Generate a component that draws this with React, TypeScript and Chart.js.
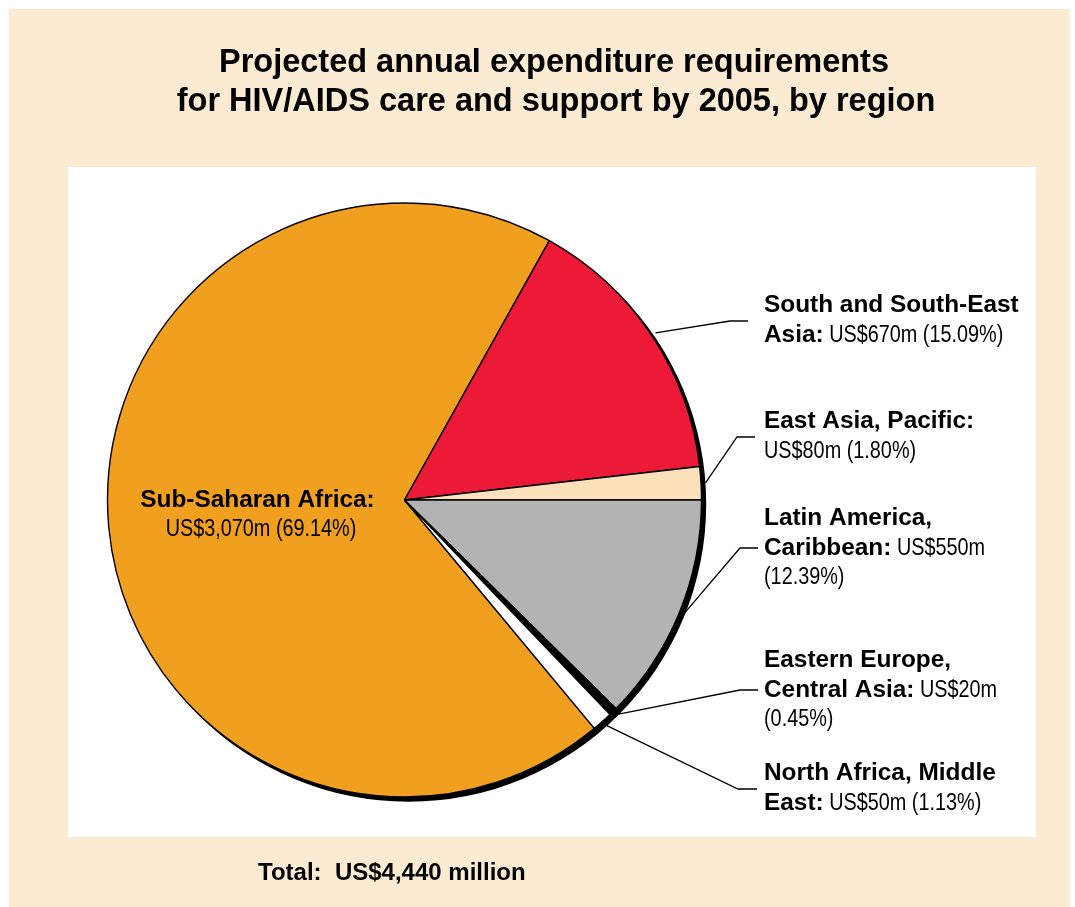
import React, { useEffect, useRef } from "react";
import { Chart, registerables } from "chart.js";
Chart.register(...registerables);

// ---- data ----
const regions = [
  "Sub-Saharan Africa",
  "South and South-East Asia",
  "East Asia, Pacific",
  "Latin America, Caribbean",
  "Eastern Europe, Central Asia",
  "North Africa, Middle East",
];
const valuesUSDm = [3070, 670, 80, 550, 20, 50];
const sliceColors = ["#F0A01E", "#EC1A37", "#FBE1BA", "#B3B3B3", "#000000", "#FFFFFF"];
const titleLines = [
  "Projected annual expenditure requirements",
  "for HIV/AIDS care and support by 2005, by region",
];
// how each region name is broken into lines in its label
const nameLines = [
  ["Sub-Saharan Africa:"],
  ["South and South-East", "Asia:"],
  ["East Asia, Pacific:"],
  ["Latin America,", "Caribbean:"],
  ["Eastern Europe,", "Central Asia:"],
  ["North Africa, Middle", "East:"],
];
// where the value text goes: "after" = after last name line, "below" = own line, "split" = money after name, pct on next line
const valueModes = ["below", "after", "below", "split", "split", "after"];

// ---- layout ----
const W = 1075;
const H = 907;
const labelX = 764;
const lineGap = 29.5;
const labelTops = [0, 312, 428, 525, 667, 780]; // first baseline of each right-hand label
const elbows = [
  null,
  [730, 321, 748],
  [737, 437, 755],
  [740, 548, 758],
  [740, 690, 758],
  [738, 789, 757],
];

const total = valuesUSDm.reduce((a, b) => a + b, 0);
const money = (v: number) => `US$${v.toLocaleString("en-US")}m`;
const pct = (v: number) => `(${((v / total) * 100).toFixed(2)}%)`;

const BOLD = 'bold 24.4px "Liberation Sans", Arial, Helvetica, sans-serif';

function hasFont(ctx: CanvasRenderingContext2D, name: string) {
  const s = "abcdefghijklmnopqrstuvwxyz0123456789ABCDEF";
  ctx.font = "24px monospace";
  const a = ctx.measureText(s).width;
  ctx.font = `24px "${name}", monospace`;
  const b = ctx.measureText(s).width;
  return Math.abs(a - b) > 0.5;
}

type Seg = [string, boolean];

export default function App() {
  const ref = useRef<HTMLCanvasElement | null>(null);

  useEffect(() => {
    const canvas = ref.current;
    if (!canvas) return;
    const ctx0 = canvas.getContext("2d")!;
    const narrow = hasFont(ctx0, "Liberation Sans Narrow");
    const REG = narrow
      ? '24.2px "Liberation Sans Narrow", sans-serif'
      : '24.2px "Liberation Sans", Arial, sans-serif';
    const regScale = narrow ? 1 : 0.82;

    const segWidth = (ctx: CanvasRenderingContext2D, s: Seg) => {
      ctx.font = s[1] ? BOLD : REG;
      return ctx.measureText(s[0]).width * (s[1] ? 1 : regScale);
    };
    const drawSegs = (ctx: CanvasRenderingContext2D, segs: Seg[], x: number, y: number) => {
      let cx = x;
      for (const s of segs) {
        ctx.font = s[1] ? BOLD : REG;
        const sc = s[1] ? 1 : regScale;
        ctx.save();
        ctx.translate(cx, y);
        ctx.scale(sc, 1);
        ctx.textAlign = "left";
        ctx.textBaseline = "alphabetic";
        ctx.fillStyle = "#000";
        ctx.fillText(s[0], 0, 0);
        ctx.restore();
        cx += segWidth(ctx, s);
      }
    };

    const labelLines = (i: number): Seg[][] => {
      const names = nameLines[i];
      const v = valuesUSDm[i];
      const lines: Seg[][] = names.map((n) => [[n, true] as Seg]);
      const mode = valueModes[i];
      if (mode === "below") lines.push([[`${money(v)} ${pct(v)}`, false]]);
      else if (mode === "after") lines[lines.length - 1].push([` ${money(v)} ${pct(v)}`, false]);
      else {
        lines[lines.length - 1].push([` ${money(v)}`, false]);
        lines.push([[pct(v), false]]);
      }
      return lines;
    };

    const framePlugin = {
      id: "frame",
      beforeDraw(chart: any) {
        const ctx: CanvasRenderingContext2D = chart.ctx;
        ctx.save();
        ctx.fillStyle = "#FFFFFF";
        ctx.fillRect(0, 0, W, H);
        ctx.fillStyle = "#FBEBD3";
        ctx.fillRect(9, 9, 1061, H - 9);
        ctx.fillStyle = "#FFFFFF";
        ctx.fillRect(68, 167, 968, 670);
        ctx.fillStyle = "#000";
        ctx.textAlign = "center";
        ctx.textBaseline = "alphabetic";
        ctx.font = 'bold 32.5px "Liberation Sans", Arial, Helvetica, sans-serif';
        ctx.fillText(titleLines[0], 554, 72);
        ctx.fillText(titleLines[1], 556, 111);
        ctx.textAlign = "left";
        ctx.font = 'bold 24px "Liberation Sans", Arial, Helvetica, sans-serif';
        ctx.fillText(`Total:  US$${total.toLocaleString("en-US")} million`, 258, 880);
        ctx.restore();
      },
      beforeDatasetsDraw(chart: any) {
        const arc: any = chart.getDatasetMeta(0).data[0];
        if (!arc) return;
        const ctx: CanvasRenderingContext2D = chart.ctx;
        ctx.save();
        ctx.fillStyle = "#000";
        ctx.beginPath();
        ctx.arc(arc.x + 4, arc.y + 4, arc.outerRadius + 0.7, 0, Math.PI * 2);
        ctx.fill();
        ctx.restore();
      },
      afterDatasetsDraw(chart: any) {
        const ctx: CanvasRenderingContext2D = chart.ctx;
        const arcs: any[] = chart.getDatasetMeta(0).data;
        ctx.save();
        // leader lines
        ctx.strokeStyle = "#000";
        ctx.lineWidth = 1.3;
        for (let i = 1; i < arcs.length; i++) {
          const a = arcs[i];
          const e = elbows[i]!;
          const mid = (a.startAngle + a.endAngle) / 2;
          const r = a.outerRadius + 4.5;
          ctx.beginPath();
          ctx.moveTo(a.x + r * Math.cos(mid), a.y + r * Math.sin(mid));
          ctx.lineTo(e[0], e[1]);
          ctx.lineTo(e[2], e[1]);
          ctx.stroke();
        }
        // Sub-Saharan label inside slice
        const l0 = labelLines(0);
        const w0 = segWidth(ctx, l0[0][0]);
        drawSegs(ctx, l0[0], 257.5 - w0 / 2, 507);
        const w1 = segWidth(ctx, l0[1][0]);
        drawSegs(ctx, l0[1], 261 - w1 / 2, 536);
        // right-hand labels
        for (let i = 1; i < regions.length; i++) {
          const lines = labelLines(i);
          lines.forEach((ln, k) => drawSegs(ctx, ln, labelX, labelTops[i] + k * lineGap));
        }
        ctx.restore();
      },
    };

    const n = valuesUSDm.length;
    const tail = valuesUSDm[n - 3] + valuesUSDm[n - 2] + valuesUSDm[n - 1];
    const rotation = 90 + (360 * tail) / total;

    const chart = new Chart(canvas, {
      type: "pie",
      data: {
        labels: regions,
        datasets: [
          {
            data: valuesUSDm,
            backgroundColor: sliceColors,
            borderColor: "#000000",
            borderWidth: 1.4,
            rotation,
            radius: 297,
            hoverOffset: 0,
          } as any,
        ],
      },
      options: {
        animation: false,
        responsive: false,
        devicePixelRatio: 1,
        events: [],
        layout: { padding: { left: 105.5, right: 371.5, top: 201, bottom: 108 } },
        plugins: {
          legend: { display: false },
          tooltip: { enabled: false },
        },
      } as any,
      plugins: [framePlugin as any],
    });
    return () => chart.destroy();
  }, []);

  return (
    <canvas
      ref={ref}
      width={W}
      height={H}
      style={{ position: "absolute", left: 0, top: 0, width: W, height: H }}
    />
  );
}
